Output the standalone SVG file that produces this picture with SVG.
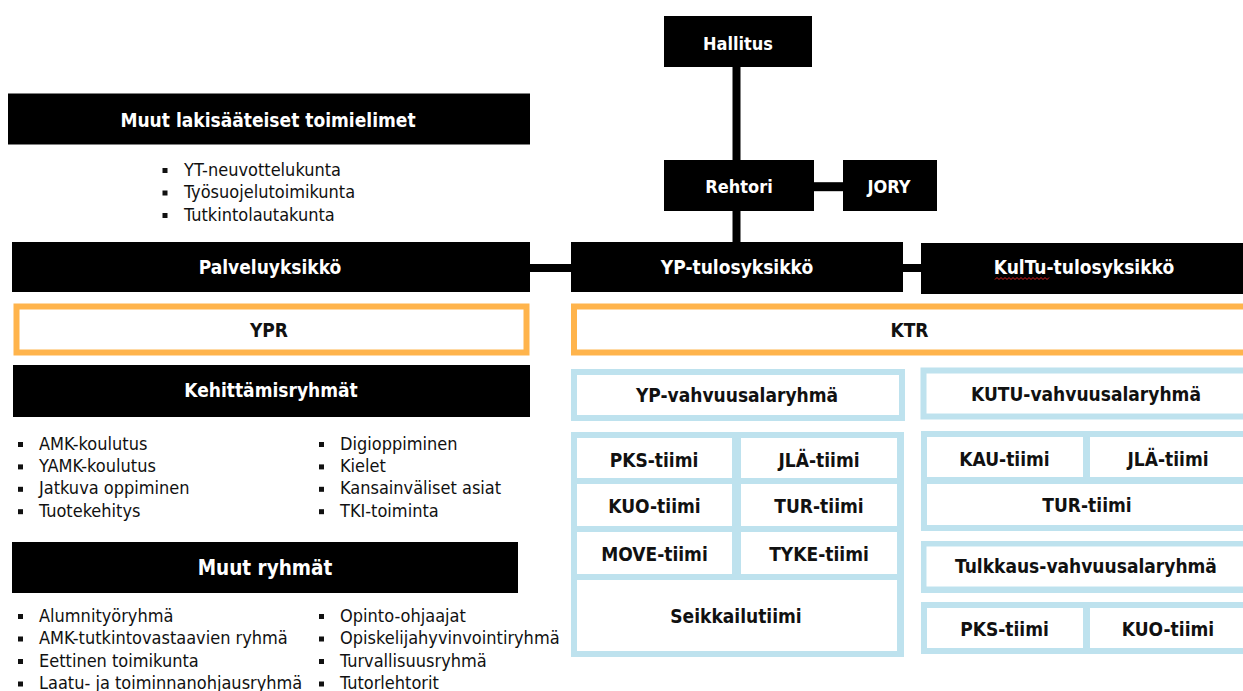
<svg xmlns="http://www.w3.org/2000/svg" width="1243" height="691" viewBox="0 0 1243 691">
<style>
.blk{fill:#000}
.org{fill:#fff;stroke:#FFB44C;stroke-width:6}
.blu{fill:#fff;stroke:#BEE2EE;stroke-width:6}
.bluf{fill:#BEE2EE}
.cell{fill:#fff}
.bt{font-family:"DejaVu Sans Condensed","DejaVu Sans",sans-serif;font-stretch:condensed;font-weight:bold;font-size:19px;fill:#fff;text-anchor:middle}
.sm{font-size:18px}
.dt{font-family:"DejaVu Sans Condensed","DejaVu Sans",sans-serif;font-stretch:condensed;font-weight:bold;font-size:19px;fill:#111;text-anchor:middle}
.li{font-family:"DejaVu Sans Condensed","DejaVu Sans",sans-serif;font-stretch:condensed;font-size:18px;fill:#111}
.bul{fill:#111}
.con{stroke:#000;fill:none}
</style>
<rect width="1243" height="691" fill="#fff"/>
<g id="connectors">
<line class="con" x1="736.5" y1="67" x2="736.5" y2="160" stroke-width="8"/>
<line class="con" x1="814" y1="186.7" x2="843" y2="186.7" stroke-width="9"/>
<line class="con" x1="736.5" y1="211" x2="736.5" y2="242" stroke-width="8"/>
<line class="con" x1="530" y1="268" x2="571" y2="268" stroke-width="8"/>
<line class="con" x1="903" y1="268" x2="921" y2="268" stroke-width="8"/>
</g>
<g id="hallitus"><rect class="blk" x="664" y="16" width="148" height="51"/><text class="bt sm" x="738" y="49.5">Hallitus</text></g>
<g id="rehtori"><rect class="blk" x="664" y="160" width="150" height="51"/><text class="bt sm" x="739" y="192.5">Rehtori</text></g>
<g id="jory"><rect class="blk" x="843" y="160" width="94" height="51"/><text class="bt sm" x="889" y="192.5">JORY</text></g>
<g id="muut-lakisaateiset"><rect class="blk" x="8" y="93.5" width="522" height="51"/><text class="bt" x="268" y="126.5">Muut lakisääteiset toimielimet</text>
<rect class="bul" x="162.5" y="168" width="5" height="5"/><text class="li" x="184" y="175.5">YT-neuvottelukunta</text>
<rect class="bul" x="162.5" y="190.5" width="5" height="5"/><text class="li" x="184" y="198">Työsuojelutoimikunta</text>
<rect class="bul" x="162.5" y="213" width="5" height="5"/><text class="li" x="184" y="220.5">Tutkintolautakunta</text>
</g>
<g id="palveluyksikko"><rect class="blk" x="12" y="242" width="518" height="50"/><text class="bt" x="270" y="274">Palveluyksikkö</text></g>
<g id="yp-tulosyksikko"><rect class="blk" x="571" y="242" width="332" height="50"/><text class="bt" x="737" y="274">YP-tulosyksikkö</text></g>
<g id="kultu-tulosyksikko"><rect class="blk" x="921" y="243" width="340" height="51"/><text class="bt" x="1084" y="274">KulTu-tulosyksikkö</text>
<path d="M995 279.5 l2 -2 l2 2 l2 -2 l2 2 l2 -2 l2 2 l2 -2 l2 2 l2 -2 l2 2 l2 -2 l2 2 l2 -2 l2 2 l2 -2 l2 2 l2 -2 l2 2 l2 -2 l2 2 l2 -2 l2 2 l2 -2 l2 2 l2 -2 l2 2 l2 -2" fill="none" stroke="#d22" stroke-width="1"/></g>
<g id="ypr"><rect class="org" x="16.5" y="306.5" width="510" height="46"/><text class="dt" x="269" y="336.5">YPR</text></g>
<g id="ktr"><rect class="org" x="574" y="306.5" width="690" height="46"/><text class="dt" x="909.5" y="336.5">KTR</text></g>
<g id="kehittamisryhmat"><rect class="blk" x="13" y="365" width="517" height="52"/><text class="bt" x="271" y="396.5">Kehittämisryhmät</text>
<rect class="bul" x="18" y="442" width="5" height="5"/><text class="li" x="39" y="449.5">AMK-koulutus</text>
<rect class="bul" x="18" y="464.4" width="5" height="5"/><text class="li" x="39" y="471.9">YAMK-koulutus</text>
<rect class="bul" x="18" y="486.8" width="5" height="5"/><text class="li" x="39" y="494.3">Jatkuva oppiminen</text>
<rect class="bul" x="18" y="509.2" width="5" height="5"/><text class="li" x="39" y="516.7">Tuotekehitys</text>
<rect class="bul" x="319" y="442" width="5" height="5"/><text class="li" x="340" y="449.5">Digioppiminen</text>
<rect class="bul" x="319" y="464.4" width="5" height="5"/><text class="li" x="340" y="471.9">Kielet</text>
<rect class="bul" x="319" y="486.8" width="5" height="5"/><text class="li" x="340" y="494.3">Kansainväliset asiat</text>
<rect class="bul" x="319" y="509.2" width="5" height="5"/><text class="li" x="340" y="516.7">TKI-toiminta</text>
</g>
<g id="muut-ryhmat"><rect class="blk" x="12" y="542" width="506" height="51"/><text class="bt" x="265" y="574.5" style="font-size:20.5px">Muut ryhmät</text>
<rect class="bul" x="18" y="614" width="5" height="5"/><text class="li" x="39" y="621.5">Alumnityöryhmä</text>
<rect class="bul" x="18" y="636.5" width="5" height="5"/><text class="li" x="39" y="644">AMK-tutkintovastaavien ryhmä</text>
<rect class="bul" x="18" y="659" width="5" height="5"/><text class="li" x="39" y="666.5">Eettinen toimikunta</text>
<rect class="bul" x="18" y="681.5" width="5" height="5"/><text class="li" x="39" y="689">Laatu- ja toiminnanohjausryhmä</text>
<rect class="bul" x="319" y="614" width="5" height="5"/><text class="li" x="340" y="621.5">Opinto-ohjaajat</text>
<rect class="bul" x="319" y="636.5" width="5" height="5"/><text class="li" x="340" y="644">Opiskelijahyvinvointiryhmä</text>
<rect class="bul" x="319" y="659" width="5" height="5"/><text class="li" x="340" y="666.5">Turvallisuusryhmä</text>
<rect class="bul" x="319" y="681.5" width="5" height="5"/><text class="li" x="340" y="689">Tutorlehtorit</text>
</g>
<g id="yp-vahvuusalaryhma"><rect class="blu" x="574" y="372" width="328" height="46"/><text class="dt" x="737" y="401.5">YP-vahvuusalaryhmä</text></g>
<g id="kutu-vahvuusalaryhma"><rect class="blu" x="923.5" y="370.5" width="340" height="46"/><text class="dt" x="1086" y="401">KUTU-vahvuusalaryhmä</text></g>
<g id="yp-tiimit"><rect class="bluf" x="571" y="432" width="333" height="225"/>
<rect class="cell" x="577" y="438" width="155" height="40"/><text class="dt" x="654" y="466.5">PKS-tiimi</text>
<rect class="cell" x="741" y="438" width="156" height="40"/><text class="dt" x="819" y="466.5">JLÄ-tiimi</text>
<rect class="cell" x="577" y="484" width="155" height="42"/><text class="dt" x="654.5" y="513.3">KUO-tiimi</text>
<rect class="cell" x="741" y="484" width="156" height="42"/><text class="dt" x="819" y="513.3">TUR-tiimi</text>
<rect class="cell" x="577" y="532" width="155" height="42"/><text class="dt" x="654.5" y="561">MOVE-tiimi</text>
<rect class="cell" x="741" y="532" width="156" height="42"/><text class="dt" x="819" y="561">TYKE-tiimi</text>
<rect class="cell" x="577" y="580" width="320" height="71"/><text class="dt" x="736" y="623">Seikkailutiimi</text>
</g>
<g id="kutu-tiimit"><rect class="bluf" x="921" y="431" width="340" height="100"/>
<rect class="cell" x="927" y="437" width="156" height="40"/><text class="dt" x="1004.5" y="465.7">KAU-tiimi</text>
<rect class="cell" x="1090" y="437" width="170" height="40"/><text class="dt" x="1168" y="465.7">JLÄ-tiimi</text>
<rect class="cell" x="927" y="484" width="333" height="41"/><text class="dt" x="1087" y="512.3">TUR-tiimi</text>
</g>
<g id="tulkkaus-vahvuusalaryhma"><rect class="bluf" x="921" y="541" width="340" height="52"/><rect class="cell" x="926.5" y="546.5" width="333" height="40"/><text class="dt" x="1086" y="573.3">Tulkkaus-vahvuusalaryhmä</text></g>
<g id="tulkkaus-tiimit"><rect class="bluf" x="921" y="602" width="340" height="52"/>
<rect class="cell" x="927" y="608" width="156" height="40"/><text class="dt" x="1004.5" y="636">PKS-tiimi</text>
<rect class="cell" x="1090" y="608" width="170" height="40"/><text class="dt" x="1168" y="636">KUO-tiimi</text>
</g>
</svg>
